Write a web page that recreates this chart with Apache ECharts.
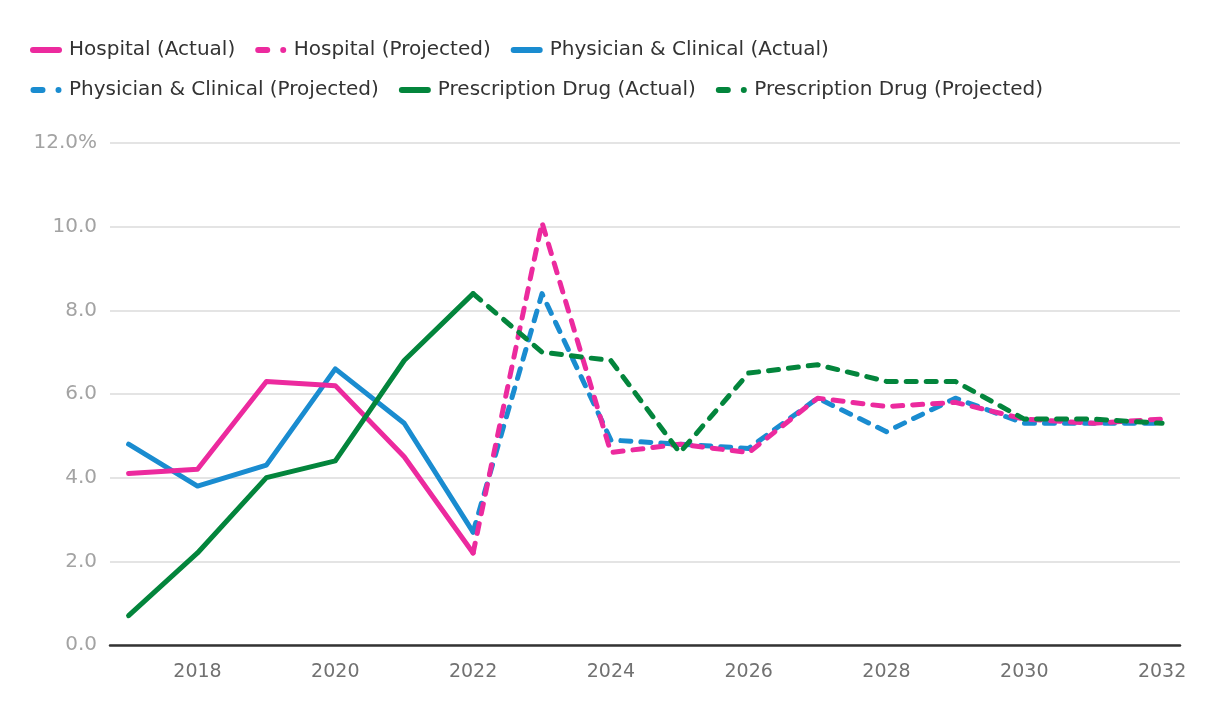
<!DOCTYPE html>
<html>
<head>
<meta charset="utf-8">
<script src="https://cdn.jsdelivr.net/npm/echarts@6/dist/echarts.min.js"></script>
<style>
html,body{margin:0;padding:0;background:#fff;}
#chart{width:1220px;height:716px;}
</style>
</head>
<body>
<div id="chart"></div>
<script>
const actualYears = [2017, 2018, 2019, 2020, 2021, 2022];
const projectedYears = [2022, 2023, 2024, 2025, 2026, 2027, 2028, 2029, 2030, 2031, 2032];
const xTickLabels = [2018, 2020, 2022, 2024, 2026, 2028, 2030, 2032];

const hospitalActual = [4.1, 4.2, 6.3, 6.2, 4.5, 2.2];
const hospitalProjected = [2.2, 10.1, 4.6, 4.8, 4.6, 5.9, 5.7, 5.8, 5.4, 5.3, 5.4];
const physicianActual = [4.8, 3.8, 4.3, 6.6, 5.3, 2.7];
const physicianProjected = [2.7, 8.4, 4.9, 4.8, 4.7, 5.9, 5.1, 5.9, 5.3, 5.3, 5.3];
const drugActual = [0.7, 2.2, 4.0, 4.4, 6.8, 8.4];
const drugProjected = [8.4, 7.0, 6.8, 4.6, 6.5, 6.7, 6.3, 6.3, 5.4, 5.4, 5.3];

const pink = '#EC2A9E';
const blue = '#1A8CD0';
const green = '#03853C';
const FONT = 'DejaVu Sans';

const SOLID_ICON = 'path://M3,0L29,0A3,3 0 0 1 29,6L3,6A3,3 0 0 1 3,0Z';
const DASH_ICON = 'path://M3,0L12,0A3,3 0 0 1 12,6L3,6A3,3 0 0 1 3,0ZM25,3A3,3 0 1 0 31,3A3,3 0 1 0 25,3Z';

function pairs(xs, ys) { return xs.map((x, i) => [x, ys[i]]); }

function mk(name, years, vals, color, dashed, z) {
  return {
    name: name,
    type: 'line',
    data: pairs(years, vals),
    symbol: 'none',
    z: z,
    itemStyle: { color: color },
    lineStyle: {
      color: color,
      width: 5,
      type: dashed ? [10, 10] : 'solid',
      cap: 'round',
      join: 'round'
    },
    emphasis: { disabled: true }
  };
}

const chart = echarts.init(document.getElementById('chart'), null, { renderer: 'canvas' });
chart.setOption({
  animation: false,
  textStyle: { fontFamily: FONT },
  legend: {
    left: 30,
    top: 40,
    width: 1110,
    itemWidth: 32,
    itemHeight: 6,
    itemGap: 20,
    padding: 0,
    itemStyle: { borderWidth: 0 },
    textStyle: { fontFamily: FONT, fontSize: 20, color: '#333', padding: [0, 0, 0, 2], lineHeight: 20 },
    data: [
      { name: 'Hospital (Actual)', icon: SOLID_ICON },
      { name: 'Hospital (Projected)', icon: DASH_ICON },
      { name: 'Physician & Clinical (Actual)', icon: SOLID_ICON },
      { name: 'Physician & Clinical (Projected)', icon: DASH_ICON },
      { name: 'Prescription Drug (Actual)', icon: SOLID_ICON },
      { name: 'Prescription Drug (Projected)', icon: DASH_ICON }
    ]
  },
  grid: { left: 110, right: 40, top: 143, bottom: 71, containLabel: false },
  xAxis: {
    type: 'value',
    min: 2016.73,
    max: 2032.26,
    axisLine: { show: true, lineStyle: { color: '#333', width: 2.5 } },
    axisTick: { show: false },
    splitLine: { show: false },
    axisLabel: {
      customValues: xTickLabels,
      formatter: v => String(v),
      color: '#717171',
      fontSize: 19,
      fontFamily: FONT,
      margin: 18
    }
  },
  yAxis: {
    type: 'value',
    min: 0,
    max: 12,
    interval: 2,
    axisLine: { show: false },
    axisTick: { show: false },
    splitLine: { lineStyle: { color: '#e4e4e4', width: 2 } },
    axisLabel: {
      formatter: v => v === 12 ? '12.0%' : v.toFixed(1),
      color: '#a3a3a3',
      fontSize: 20,
      fontFamily: FONT,
      margin: 13,
      padding: [5, 0, 0, 0]
    }
  },
  series: [
    mk('Hospital (Actual)', actualYears, hospitalActual, pink, false, 3),
    mk('Hospital (Projected)', projectedYears, hospitalProjected, pink, true, 3),
    mk('Physician & Clinical (Actual)', actualYears, physicianActual, blue, false, 2),
    mk('Physician & Clinical (Projected)', projectedYears, physicianProjected, blue, true, 2),
    mk('Prescription Drug (Actual)', actualYears, drugActual, green, false, 4),
    mk('Prescription Drug (Projected)', projectedYears, drugProjected, green, true, 4)
  ]
});
</script>
</body>
</html>
